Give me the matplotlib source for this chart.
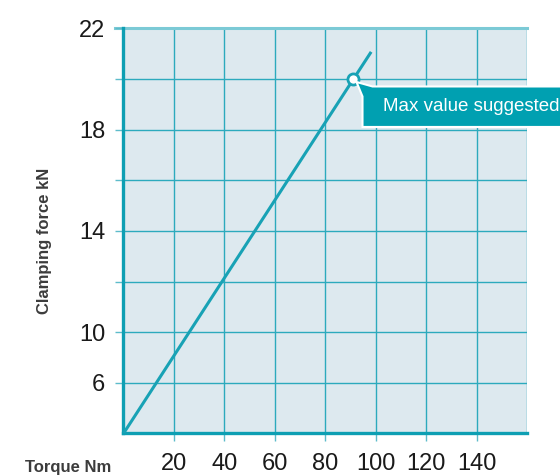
import matplotlib
matplotlib.use('Agg')
import matplotlib.pyplot as plt
from matplotlib.patches import Polygon

plt.rcParams['font.family'] = ['Liberation Sans', 'DejaVu Sans']

# torque (Nm) vs clamping force (kN)
torque = [0, 91.2, 98.2]
force = [6, 20, 21.07]
max_torque, max_force = 91.2, 20

x_ticks = [20, 40, 60, 80, 100, 120, 140]
y_grid = [8, 10, 12, 14, 16, 18, 20, 22]
y_labeled = {8: '6', 10: '10', 14: '14', 18: '18', 22: '22'}

teal = '#0e9fb3'
grid_c = '#2caabd'
bg = '#dde9ef'

fig = plt.figure(figsize=(5.6, 4.76), dpi=100)
ax = fig.add_axes([0.2205, 0.0893, 0.7206, 0.8512])
ax.set_facecolor(bg)
ax.set_xlim(0, 160)
ax.set_ylim(6, 22)

# grid
for x in x_ticks + [160]:
    ax.axvline(x, color=grid_c, lw=1.0, zorder=1)
for y in y_grid[:-1]:
    ax.axhline(y, color=grid_c, lw=1.0, zorder=1)
ax.axhline(22, xmin=-0.021, xmax=1, color='#7ccad6', lw=2.2, zorder=1, clip_on=False)

for s in ['top', 'right']:
    ax.spines[s].set_visible(False)
for s in ['left', 'bottom']:
    ax.spines[s].set_color(teal)
    ax.spines[s].set_linewidth(2.4)
    ax.spines[s].set_zorder(3)

ax.set_xticks(x_ticks)
ax.set_xticklabels([str(v) for v in x_ticks])
ax.set_yticks(y_grid)
ax.set_yticklabels([y_labeled.get(v, '') for v in y_grid])
ax.tick_params(axis='x', length=6, width=1, color='#5dbccb', pad=8, labelsize=17,
               labelcolor='#1a1a1a')
ax.tick_params(axis='y', length=6, width=1, color='#5dbccb', pad=7, labelsize=17,
               labelcolor='#1a1a1a')

ax.plot(torque, force, color='#18a2b5', lw=2.2, zorder=4, solid_capstyle='butt')
ax.plot([max_torque], [max_force], 'o', ms=8, mfc='white', mec='#18a2b5', mew=2, zorder=5)

fig.text(0.045, 0.008, 'Torque Nm', fontsize=12, fontweight='bold', color='#3c3c3c')
fig.text(0.079, 0.494, 'Clamping force kN', fontsize=12, fontweight='bold', color='#3c3c3c',
         rotation=90, va='center', ha='center')

# callout box next to the max point
px, py = ax.transData.transform((max_torque, max_force))
L, T, B, R = px + 9, py - 7.5, py - 48, px + 260
callout = Polygon([(px + 3, py - 3), (L + 10, T), (R, T), (R, B), (L, B), (L, T - 10)],
                  closed=True, transform=None, facecolor='#00a0b1', edgecolor='white',
                  lw=1.5, zorder=6, clip_on=False)
fig.patches.append(callout)
fig.text((L + 21) / fig.bbox.width, (T + B) / 2 / fig.bbox.height, 'Max value suggested',
         fontsize=13.5, color='white', va='center', ha='left', zorder=7)

fig.savefig('out.png', dpi=100)
